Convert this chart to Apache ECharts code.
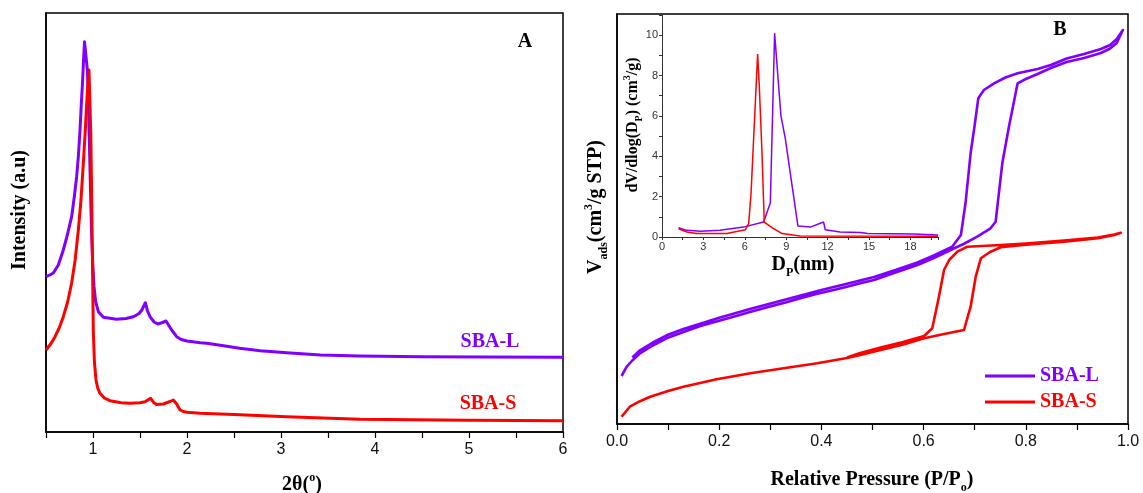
<!DOCTYPE html>
<html>
<head>
<meta charset="utf-8">
<script src="https://cdn.jsdelivr.net/npm/echarts@6.0.0/dist/echarts.min.js"></script>
<style>
html,body{margin:0;padding:0;background:#fff;}
#chart{width:1143px;height:493px;}
</style>
</head>
<body>
<div id="chart"></div>
<script>
// ---------- Panel A : small-angle XRD (intensity in arbitrary units) ----------
const xrdTheta_L = [0.5,0.54,0.578,0.631,0.684,0.727,0.773,0.801,0.826,0.844,0.862,0.876,0.89,0.901,0.91,0.924,0.94,0.95,0.961,0.975,0.986,0.997,1.011,1.028,1.057,1.11,1.25,1.35,1.43,1.49,1.52,1.557,1.58,1.606,1.65,1.69,1.74,1.777,1.81,1.837,1.89,1.94,2.0,2.14,2.21,2.39,2.56,2.78,3.06,3.42,3.84,4.5,5.2,6.0];
const xrdInt_L   = [155.3,157,159,167,182,197,215.3,235.3,255.3,275.3,302,328.7,352,375.3,390.3,390.3,362,335.3,292,235.3,195.3,169,145.3,130.3,120.3,114.7,112.7,113.5,115.3,118.5,122,129.3,121,115.3,110,108,109.5,111,106,102,95.3,92.5,91,89.3,88.7,86.3,83.7,81.3,79.3,77,76,75.3,75,74.7];
const xrdTheta_S = [0.5,0.55,0.596,0.64,0.684,0.73,0.773,0.81,0.844,0.872,0.897,0.917,0.933,0.946,0.957,0.968,0.976,0.986,0.995,1.003,1.015,1.032,1.05,1.074,1.12,1.18,1.3,1.394,1.5,1.553,1.614,1.645,1.677,1.748,1.82,1.854,1.89,1.926,1.96,2.0,2.14,2.5,3.06,3.84,5.0,6.0];
const xrdInt_S   = [82,88,95.3,104,115.3,130,149,172,202,232,268.7,300,328.7,348,362,362,300,235.3,165,102,70,52,44,38.7,34,31.3,29.3,28.7,29.3,30.3,33.7,29.5,27.5,28,30.5,32,28,22,20.5,19.7,18.7,17.5,15.3,12.7,11.7,11.3];

// ---------- Panel B : N2 isotherms (adsorption then desorption branch) ----------
const isoP_L = [0.009,0.019,0.03,0.045,0.07,0.097,0.13,0.163,0.2,0.228,0.26,0.294,0.33,0.359,0.39,0.424,0.45,0.476,0.503,0.545,0.588,0.62,0.653,0.68,0.705,0.731,0.741,0.754,0.767,0.784,0.8,0.823,0.849,0.88,0.914,0.947,0.965,0.978,0.99,
                0.978,0.965,0.947,0.914,0.88,0.849,0.823,0.8,0.784,0.76,0.738,0.718,0.707,0.7,0.692,0.682,0.673,0.656,0.62,0.588,0.545,0.503,0.45,0.4,0.33,0.26,0.2,0.13,0.097,0.07,0.045,0.03];
const isoV_L = [48,57.3,63.5,70.7,78.5,85.7,92,98,103.3,107.3,112,116.7,121.5,125.7,130,134,137.3,140.7,144,151.5,159,166,174,180.5,187.3,195.7,202.3,260.7,297.3,340.7,345,350,356,362,366,371,375.5,381,394,
                385,379,375,370,365.5,359,355,352.5,350.7,346.5,340.7,334,325.7,299,270.7,220.7,189,177.3,168.5,161.5,154,147,140.3,134,124.5,115,106.3,95,88.7,81.5,73.7,66.5];
const isoP_S = [0.009,0.025,0.045,0.065,0.1,0.13,0.195,0.261,0.326,0.392,0.45,0.476,0.516,0.56,0.601,0.64,0.679,0.692,0.702,0.712,0.73,0.751,0.79,0.83,0.875,0.941,0.973,0.986,
                0.973,0.941,0.875,0.8,0.751,0.686,0.666,0.65,0.64,0.63,0.617,0.601,0.56,0.516,0.476,0.45];
const isoV_S = [7.3,17.3,22.8,27.3,33,37.3,44.7,50.7,55.7,60.7,66,69,74,79.5,85.7,90,94,117.3,147.3,165.7,172,176.7,178.7,180.5,182.3,185.7,189,191.3,
                189.5,186.5,183.5,180.5,179,177.3,172.3,164,154,127.3,95.7,88,82,76.5,71,66.5];

// ---------- Inset : pore size distribution ----------
const poreD_L = [1.2,1.8,2.8,4.2,5.9,7.36,7.85,8.16,8.45,8.62,8.93,9.85,10.75,11.71,11.83,12.9,14.4,14.9,18.2,18.3,20.0];
const poreV_L = [0.46,0.33,0.28,0.33,0.49,0.74,1.68,10.1,7.5,6.0,4.9,0.54,0.49,0.74,0.36,0.25,0.22,0.17,0.15,0.12,0.1];
const poreD_S = [1.2,1.81,2.5,4.7,6.04,6.28,6.45,6.93,7.05,7.25,7.41,8.0,8.7,10.0,20.0];
const poreV_S = [0.41,0.25,0.17,0.17,0.36,0.66,2.14,9.06,7.5,4.1,0.74,0.45,0.17,0.05,0.04];

const seriesNames = ['SBA-L','SBA-S'];
const purple = '#8000ff', red = '#ff0000';
const serif = '"Liberation Serif","Times New Roman",serif';
const sans = '"Liberation Sans",Arial,sans-serif';

const zip = (a,b) => a.map((v,i)=>[v,b[i]]);

function rich(size, color){
  const s = Math.round(size*0.62);
  return {
    b:{fontSize:size,fontWeight:'bold',fontFamily:serif,fill:color,lineHeight:Math.round(size*1.35)},
    sup:{fontSize:s,fontWeight:'bold',fontFamily:serif,fill:color,lineHeight:s,verticalAlign:'top'},
    sub:{fontSize:s,fontWeight:'bold',fontFamily:serif,fill:color,lineHeight:s,verticalAlign:'bottom'}
  };
}
function txt(text,x,y,size,color,rot){
  return {type:'text',x:x,y:y,rotation:rot||0,z:100,
    style:{text:text,rich:rich(size,color),align:'center',verticalAlign:'middle',fill:color,
      fontSize:size,fontWeight:'bold',fontFamily:serif}};
}

const axisLineBlack = {show:true,lineStyle:{color:'#000',width:1.5}};
const chart = echarts.init(document.getElementById('chart'),null,{renderer:'canvas'});
chart.setOption({
  animation:false,
  backgroundColor:'#fff',
  grid:[
    {left:46,top:13,width:517,height:419,show:true,borderColor:'#000',borderWidth:1.5,containLabel:false},
    {left:617,top:14,width:511,height:410,show:true,borderColor:'#000',borderWidth:1.5,containLabel:false},
    {left:662,top:15,width:276,height:222,show:false,containLabel:false}
  ],
  xAxis:[
    {gridIndex:0,type:'value',min:0.5,max:6,interval:0.5,axisLine:axisLineBlack,
     axisTick:{show:true,length:6,lineStyle:{color:'#000',width:1.2}},
     axisLabel:{margin:10,fontSize:16,fontFamily:sans,color:'#111',
       formatter:v=>Number.isInteger(v)?String(v):''},
     splitLine:{show:false}},
    {gridIndex:1,type:'value',min:0,max:1,interval:0.1,axisLine:axisLineBlack,
     axisTick:{show:true,length:6,lineStyle:{color:'#000',width:1.2}},
     axisLabel:{margin:10,fontSize:16,fontFamily:sans,color:'#111',
       formatter:v=>(Math.round(v*10)%2===0)?v.toFixed(1):''},
     splitLine:{show:false}},
    {gridIndex:2,type:'value',min:0,max:20,interval:1.5,
     axisLine:{show:true,lineStyle:{color:'#333',width:1}},
     axisTick:{show:true,length:3,lineStyle:{color:'#333',width:1}},
     axisLabel:{margin:4,fontSize:11,fontFamily:sans,color:'#333',
       formatter:v=>(Math.abs(v/3-Math.round(v/3))<1e-6)?String(v):''},
     splitLine:{show:false}}
  ],
  yAxis:[
    {gridIndex:0,type:'value',min:0,max:419,axisLine:axisLineBlack,axisTick:{show:false},axisLabel:{show:false},splitLine:{show:false}},
    {gridIndex:1,type:'value',min:0,max:410,axisLine:axisLineBlack,axisTick:{show:false},axisLabel:{show:false},splitLine:{show:false}},
    {gridIndex:2,type:'value',min:0,max:11,interval:1,
     axisLine:{show:true,lineStyle:{color:'#333',width:1}},
     axisTick:{show:true,length:3,lineStyle:{color:'#333',width:1}},
     axisLabel:{margin:4,fontSize:11,fontFamily:sans,color:'#333',
       formatter:v=>(v%2===0&&v<=10)?String(v):''},
     splitLine:{show:false}}
  ],
  legend:{
    orient:'vertical',left:980,top:361,itemWidth:50,itemHeight:3,itemGap:6,icon:'rect',
    textStyle:{fontFamily:serif,fontWeight:'bold',fontSize:20,lineHeight:20},
    data:[{name:seriesNames[0],textStyle:{color:purple}},{name:seriesNames[1],textStyle:{color:red}}]
  },
  series:[
    {name:seriesNames[0],type:'line',xAxisIndex:0,yAxisIndex:0,data:zip(xrdTheta_L,xrdInt_L),
     showSymbol:false,lineStyle:{width:3,color:purple,join:'round'},itemStyle:{color:purple}},
    {name:seriesNames[1],type:'line',xAxisIndex:0,yAxisIndex:0,data:zip(xrdTheta_S,xrdInt_S),
     showSymbol:false,lineStyle:{width:3,color:red,join:'round'},itemStyle:{color:red}},
    {name:seriesNames[0],type:'line',xAxisIndex:1,yAxisIndex:1,data:zip(isoP_L,isoV_L),
     showSymbol:false,lineStyle:{width:2.6,color:purple,join:'round'},itemStyle:{color:purple}},
    {name:seriesNames[1],type:'line',xAxisIndex:1,yAxisIndex:1,data:zip(isoP_S,isoV_S),
     showSymbol:false,lineStyle:{width:2.6,color:red,join:'round'},itemStyle:{color:red}},
    {name:seriesNames[0],type:'line',xAxisIndex:2,yAxisIndex:2,data:zip(poreD_L,poreV_L),
     showSymbol:false,lineStyle:{width:1.5,color:purple},itemStyle:{color:purple}},
    {name:seriesNames[1],type:'line',xAxisIndex:2,yAxisIndex:2,data:zip(poreD_S,poreV_S),
     showSymbol:false,lineStyle:{width:1.5,color:red},itemStyle:{color:red}}
  ],
  graphic:[
    txt('{b|Intensity (a.u)}',20,210,20,'#000',Math.PI/2),
    txt('{b|2θ(}{sup|o}{b|)}',302,485,20,'#000',0),
    txt('{b|A}',525,42,20,'#000',0),
    txt('{b|SBA-L}',490,342,20,purple,0),
    txt('{b|SBA-S}',488,404,20,red,0),
    txt('{b|B}',1060,30,20,'#000',0),
    txt('{b|Relative Pressure (P/P}{sub|o}{b|)}',872,480,20,'#000',0),
    txt('{b|V}{sub|ads}{b|(cm}{sup|3}{b|/g STP)}',596,207,20,'#000',Math.PI/2),
    txt('{b|dV/dlog(D}{sub|P}{b|) (cm}{sup|3}{b|/g)}',633,125,16,'#000',Math.PI/2),
    txt('{b|D}{sub|P}{b|(nm)}',803,265,20,'#000',0)
  ]
});
</script>
</body>
</html>
